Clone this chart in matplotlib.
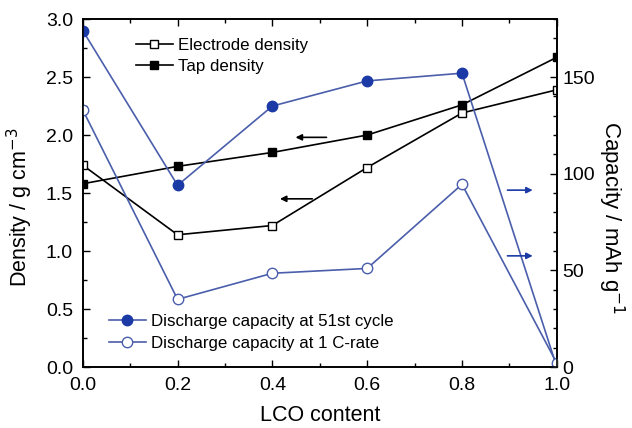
import matplotlib.pyplot as plt
from matplotlib.ticker import MultipleLocator

plt.rcParams['font.family'] = ['Liberation Sans', 'DejaVu Sans']

lco = [0.0, 0.2, 0.4, 0.6, 0.8, 1.0]
electrode_density = [1.74, 1.14, 1.22, 1.72, 2.19, 2.39]
tap_density = [1.58, 1.73, 1.85, 2.00, 2.26, 2.67]
cap_51st = [174, 94, 135, 148, 152, 0]
cap_1c = [133, 35, 48.5, 51, 94.5, 2]

blue_line = '#4a5eab'
blue_fill = '#1c3aa6'

fig = plt.figure(figsize=(6.32, 4.28), dpi=100)
ax = fig.add_axes([0.131, 0.1425, 0.75, 0.813])
ax2 = ax.twinx()

l1, = ax.plot(lco, electrode_density, '-s', color='black', lw=1.2, ms=5.8,
              mfc='white', mec='black', mew=1.0, label='Electrode density')
l2, = ax.plot(lco, tap_density, '-s', color='black', lw=1.2, ms=5.8,
              mfc='black', mec='black', label='Tap density')
l3, = ax2.plot(lco, cap_51st, '-o', color=blue_line, lw=1.2, ms=7.5,
               mfc=blue_fill, mec=blue_fill, label='Discharge capacity at 51st cycle')
l4, = ax2.plot(lco, cap_1c, '-o', color=blue_line, lw=1.2, ms=7.5,
               mfc='white', mec=blue_line, mew=1.0, label='Discharge capacity at 1 C-rate')

ax.set_xlim(0, 1.0)
ax.set_ylim(0, 3.0)
ax2.set_ylim(0, 180)

ax.xaxis.set_major_locator(MultipleLocator(0.2))
ax.xaxis.set_minor_locator(MultipleLocator(0.1))
ax.yaxis.set_major_locator(MultipleLocator(0.5))
ax.yaxis.set_minor_locator(MultipleLocator(0.25))
ax2.yaxis.set_major_locator(MultipleLocator(50))
ax2.yaxis.set_minor_locator(MultipleLocator(10))
ax2.set_yticks([0, 50, 100, 150])

ax.tick_params(which='both', direction='in', top=True, labelsize=14, width=1.0)
ax.tick_params(which='major', length=5)
ax.tick_params(which='minor', length=3)
ax.tick_params(axis='x', pad=7)
ax.tick_params(axis='y', pad=7)
ax2.tick_params(which='both', direction='in', labelsize=14, width=1.0)
ax2.tick_params(which='major', length=5, pad=4)
ax2.tick_params(which='minor', length=3)
ax.xaxis.set_major_formatter(plt.FuncFormatter(lambda v, p: f'{v:.1f}'))
ax.yaxis.set_major_formatter(plt.FuncFormatter(lambda v, p: f'{v:.1f}'))

for a in (ax, ax2):
    for s in a.spines.values():
        s.set_linewidth(1.2)

ax.set_xlabel('LCO content', fontsize=15.5, labelpad=8)
ax.set_ylabel('Density / g cm$^{-3}$', fontsize=15.5)
ax.yaxis.set_label_coords(-0.10, 0.46)
ax2.set_ylabel('Capacity / mAh g$^{-1}$', fontsize=16, rotation=270)
ax2.yaxis.set_label_coords(1.147, 0.43)

# arrows pointing to the axes
ax.annotate('', xy=(0.443, 1.98), xytext=(0.52, 1.98),
            arrowprops=dict(arrowstyle='-|>', color='black', lw=1.2, mutation_scale=9))
ax.annotate('', xy=(0.41, 1.45), xytext=(0.49, 1.45),
            arrowprops=dict(arrowstyle='-|>', color='black', lw=1.2, mutation_scale=9))
ax2.annotate('', xy=(0.955, 91.5), xytext=(0.89, 91.5),
             arrowprops=dict(arrowstyle='-|>', color=blue_fill, lw=1.2, mutation_scale=9))
ax2.annotate('', xy=(0.955, 57.5), xytext=(0.89, 57.5),
             arrowprops=dict(arrowstyle='-|>', color=blue_fill, lw=1.2, mutation_scale=9))

leg1 = ax2.legend(handles=[l1, l2], loc='upper left', bbox_to_anchor=(0.097, 0.966),
                  frameon=False, fontsize=12.2, handlelength=2.2, handletextpad=0.3,
                  labelspacing=0.38, borderaxespad=0)
ax2.add_artist(leg1)
ax2.legend(handles=[l3, l4], loc='lower left', bbox_to_anchor=(0.04, 0.027),
           frameon=False, fontsize=12.2, handlelength=2.2, handletextpad=0.3,
           labelspacing=0.38, borderaxespad=0)

fig.savefig('out.png', dpi=100)
